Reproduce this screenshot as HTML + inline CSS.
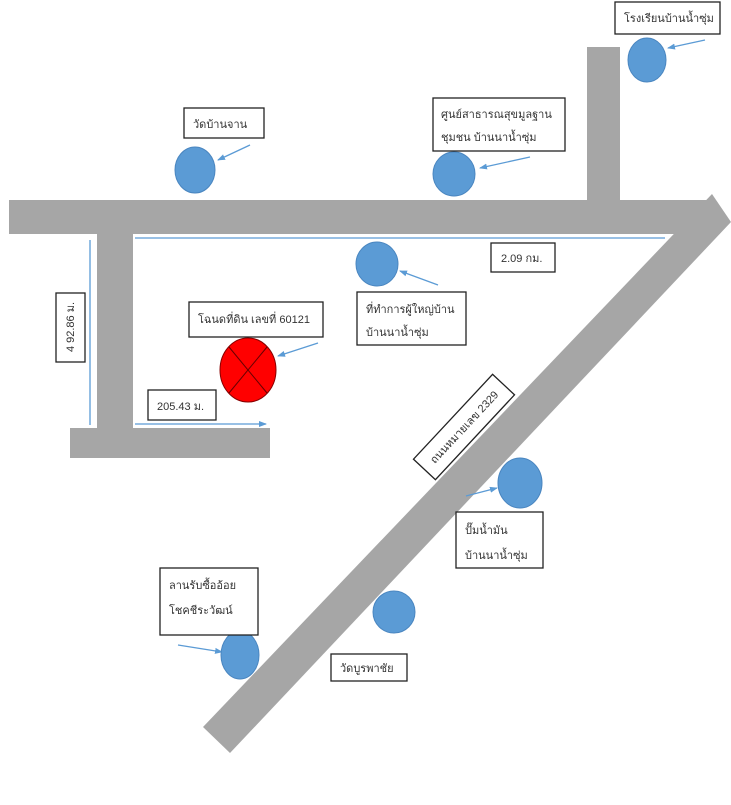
<!DOCTYPE html>
<html><head><meta charset="utf-8"><style>
body{margin:0;background:#fff;width:731px;height:800px;overflow:hidden}
svg text{font-family:"Liberation Sans","Noto Sans CJK SC",sans-serif;font-size:11px;fill:#333}
</style></head><body>
<svg width="731" height="800" viewBox="0 0 731 800" xmlns="http://www.w3.org/2000/svg">
<defs><marker id="a" markerWidth="8" markerHeight="8" refX="7" refY="4" orient="auto" markerUnits="userSpaceOnUse"><path d="M0,1 L8,4 L0,7z" fill="#5b9bd5"/></marker></defs>
<g fill="#a6a6a6">
<rect x="9" y="200" width="705" height="34"/>
<rect x="587" y="47" width="33" height="155"/>
<polygon points="712,194 731,222 230,753 203,727"/>
<rect x="97" y="232" width="36" height="196"/>
<rect x="70" y="428" width="200" height="30"/>
</g>
<g stroke="#5b9bd5" stroke-width="1.3" fill="none">
<line x1="135" y1="238" x2="665" y2="238"/>
<line x1="90" y1="240" x2="90" y2="425"/>
<line x1="135" y1="424" x2="266" y2="424" marker-end="url(#a)"/>
<line x1="250" y1="145" x2="218" y2="160" marker-end="url(#a)"/>
<line x1="530" y1="157" x2="480" y2="168" marker-end="url(#a)"/>
<line x1="705" y1="40" x2="668" y2="48" marker-end="url(#a)"/>
<line x1="438" y1="285" x2="400" y2="271" marker-end="url(#a)"/>
<line x1="318" y1="343" x2="278" y2="356" marker-end="url(#a)"/>
<line x1="466" y1="496" x2="497" y2="488" marker-end="url(#a)"/>
<line x1="352" y1="680" x2="378" y2="665" marker-end="url(#a)"/>
<line x1="178" y1="645" x2="222" y2="652" marker-end="url(#a)"/>
</g>
<g fill="#5b9bd5" stroke="#4a86c0" stroke-width="1">
<ellipse cx="195" cy="170" rx="20" ry="23"/>
<ellipse cx="454" cy="174" rx="21" ry="22"/>
<ellipse cx="647" cy="60" rx="19" ry="22"/>
<ellipse cx="377" cy="264" rx="21" ry="22"/>
<ellipse cx="520" cy="483" rx="22" ry="25"/>
<ellipse cx="394" cy="612" rx="21" ry="21"/>
<ellipse cx="240" cy="655" rx="19" ry="24"/>
</g>
<ellipse cx="248" cy="370" rx="28" ry="32" fill="#f00" stroke="#800" stroke-width="1"/>
<line x1="229" y1="347" x2="267" y2="393" stroke="#600" stroke-width="1"/>
<line x1="267" y1="347" x2="229" y2="393" stroke="#600" stroke-width="1"/>
<g fill="#fff" stroke="#222" stroke-width="1.3">
<rect x="184" y="108" width="80" height="30"/>
<rect x="433" y="98" width="132" height="53"/>
<rect x="615" y="2" width="105" height="32"/>
<rect x="491" y="243" width="64" height="29"/>
<rect x="357" y="292" width="109" height="53"/>
<rect x="56" y="293" width="29" height="69"/>
<rect x="189" y="302" width="134" height="35"/>
<rect x="148" y="390" width="68" height="30"/>
<rect x="456" y="512" width="87" height="56"/>
<rect x="160" y="568" width="98" height="67"/>
<rect x="331" y="654" width="76" height="27"/>
</g>
<g transform="translate(464,427) rotate(-47)">
<rect x="-58" y="-15" width="116" height="30" fill="#fff" stroke="#222" stroke-width="1.3"/>
<text x="0" y="4" text-anchor="middle" font-size="10">ถนนหมายเลข 2329</text>
</g>
<text x="193" y="128">วัดบ้านจาน</text>
<text x="441" y="118">ศูนย์สาธารณสุขมูลฐาน</text>
<text x="441" y="141">ชุมชน บ้านนาน้ำซุ่ม</text>
<text x="624" y="22" font-size="10">โรงเรียนบ้านน้ำซุ่ม</text>
<text x="501" y="262" font-size="10">2.09 กม.</text>
<text x="366" y="313">ที่ทำการผู้ใหญ่บ้าน</text>
<text x="366" y="336">บ้านนาน้ำซุ่ม</text>
<text x="0" y="0" font-size="10" text-anchor="middle" transform="translate(74,327) rotate(-90)">4 92.86 ม.</text>
<text x="198" y="323" font-size="10.5">โฉนดที่ดิน เลขที่ 60121</text>
<text x="157" y="410">205.43 ม.</text>
<text x="465" y="534">ปั๊มน้ำมัน</text>
<text x="465" y="559">บ้านนาน้ำซุ่ม</text>
<text x="169" y="589">ลานรับซื้ออ้อย</text>
<text x="169" y="614">โชคชีระวัฒน์</text>
<text x="340" y="672">วัดบูรพาชัย</text>
</svg>
</body></html>
